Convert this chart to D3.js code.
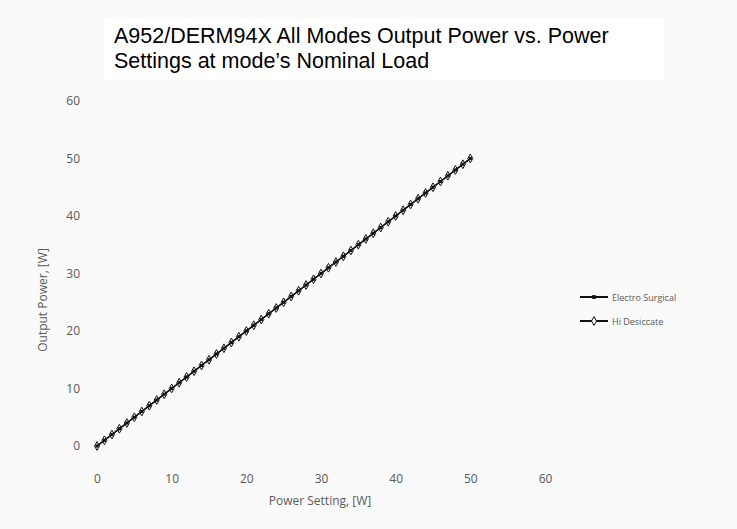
<!DOCTYPE html>
<html><head><meta charset="utf-8">
<script src="https://cdn.jsdelivr.net/npm/d3@7"></script>
<style>body{margin:0;background:#fafafa}svg{display:block}</style>
</head><body><svg id="c" width="737" height="529"></svg>
<script>
const titleLines = ["A952/DERM94X All Modes Output Power vs. Power", "Settings at mode\u2019s Nominal Load"];
const xTicks = [0, 10, 20, 30, 40, 50, 60];
const yTicks = [0, 10, 20, 30, 40, 50, 60];
const seriesNames = ["Electro Surgical", "Hi Desiccate"];
const powerSetting = [0,1,2,3,4,5,6,7,8,9,10,11,12,13,14,15,16,17,18,19,20,21,22,23,24,25,26,27,28,29,30,31,32,33,34,35,36,37,38,39,40,41,42,43,44,45,46,47,48,49,50];
const outputElectro = [0,1,2,3,4,5,6,7,8,9,10,11,12,13,14,15,16,17,18,19,20,21,22,23,24,25,26,27,28,29,30,31,32,33,34,35,36,37,38,39,40,41,42,43,44,45,46,47,48,49,50];
const outputDesiccate = [0,1,2,3,4,5,6,7,8,9,10,11,12,13,14,15,16,17,18,19,20,21,22,23,24,25,26,27,28,29,30,31,32,33,34,35,36,37,38,39,40,41,42,43,44,45,46,47,48,49,50];

const svg = d3.select("#c");
svg.append("rect").attr("width",737).attr("height",529).attr("fill","#fafafa");
svg.append("rect").attr("x",104).attr("y",18).attr("width",560).attr("height",62).attr("fill","#ffffff");

const x = d3.scaleLinear().domain([0,60]).range([97,545]);
const y = d3.scaleLinear().domain([0,60]).range([446,101]);

titleLines.forEach((t,i)=>svg.append("text").attr("x",114).attr("y",43+i*25)
  .attr("font-family","Liberation Sans, Arial, sans-serif").attr("font-size",21.5).attr("fill","#000").text(t));

const xa = svg.append("g").attr("transform","translate(0,474)")
  .call(d3.axisBottom(x).tickValues(xTicks).tickSize(0).tickPadding(0));
const ya = svg.append("g").attr("transform","translate(80,0)")
  .call(d3.axisLeft(y).tickValues(yTicks).tickSize(0).tickPadding(0));
[xa,ya].forEach(a=>{a.select(".domain").remove();
  a.selectAll("text").attr("font-family","Open Sans, sans-serif").attr("font-size",12).attr("fill","#595959");});

svg.append("text").attr("x",320).attr("y",505).attr("text-anchor","middle")
  .attr("font-family","Open Sans, sans-serif").attr("font-size",12).attr("fill","#595959").text("Power Setting, [W]");
svg.append("text").attr("transform","translate(47,300) rotate(-90)").attr("text-anchor","middle")
  .attr("font-family","Open Sans, sans-serif").attr("font-size",12).attr("fill","#595959").text("Output Power, [W]");

const line = d3.line().x(d=>x(d[0])).y(d=>y(d[1]));
const d1 = powerSetting.map((p,i)=>[p,outputElectro[i]]);
const d2 = powerSetting.map((p,i)=>[p,outputDesiccate[i]]);
svg.append("path").datum(d1).attr("d",line).attr("fill","none").attr("stroke","#111").attr("stroke-width",1.5);
svg.append("path").datum(d2).attr("d",line).attr("fill","none").attr("stroke","#111").attr("stroke-width",1.5);
const diamond = d3.symbol().type(d3.symbolDiamond).size(22);
svg.append("g").selectAll("path").data(d1).join("path")
  .attr("transform",d=>`translate(${x(d[0])},${y(d[1])})`).attr("d",d3.symbol().type(d3.symbolSquare).size(10)).attr("fill","#111");
svg.append("g").selectAll("path").data(d2).join("path")
  .attr("transform",d=>`translate(${x(d[0])},${y(d[1])})`).attr("d",diamond).attr("fill","none").attr("stroke","#111").attr("stroke-width",1);

const lg = svg.append("g");
seriesNames.forEach((n,i)=>{
  const yy = 297 + i*24;
  lg.append("line").attr("x1",580).attr("x2",608).attr("y1",yy).attr("y2",yy).attr("stroke","#111").attr("stroke-width",2);
  if(i===0) lg.append("path").attr("transform",`translate(594,${yy})`).attr("d",d3.symbol().type(d3.symbolSquare).size(14)).attr("fill","#111");
  else lg.append("path").attr("transform",`translate(594,${yy})`).attr("d",diamond).attr("fill","#fff").attr("stroke","#111");
  lg.append("text").attr("x",612).attr("y",yy+3.5).attr("font-family","Open Sans, sans-serif").attr("font-size",9).attr("fill","#595959").text(n);
});
</script></body></html>
